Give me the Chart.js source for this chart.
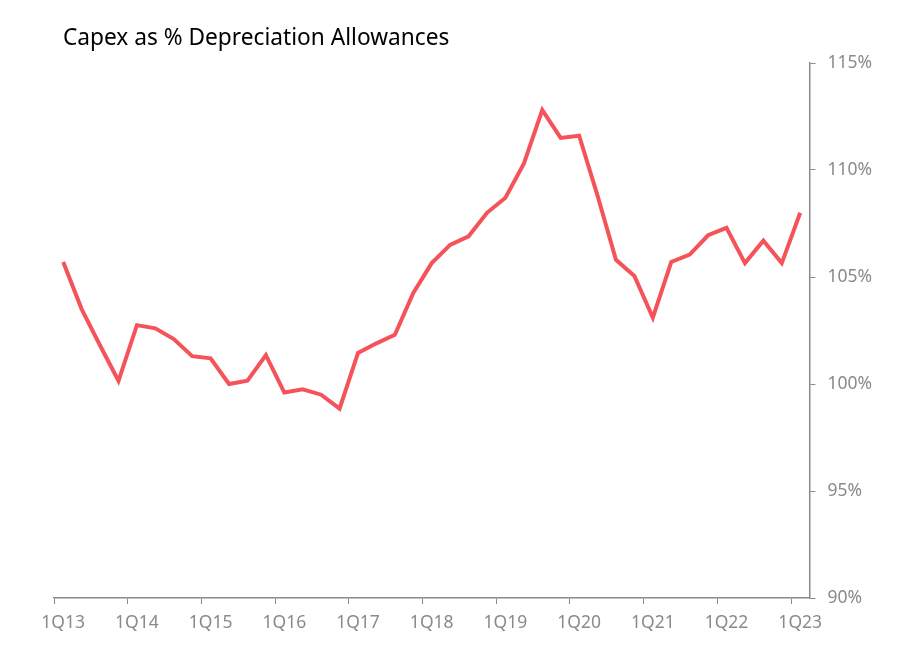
<!DOCTYPE html>
<html>
<head>
<meta charset="utf-8">
<script src="https://cdn.jsdelivr.net/npm/chart.js@4.4.1/dist/chart.umd.min.js"></script>
<style>
  body { margin: 0; background: #fff; }
  #wrap { position: relative; width: 910px; height: 660px; }
  #title { position: absolute; left: 63px; top: 21px; font-family: "Noto Sans", sans-serif; font-size: 22.7px; color: #000; }
</style>
</head>
<body>
<div id="wrap">
  <div id="title">Capex as % Depreciation Allowances</div>
  <canvas id="myChart" width="910" height="660"></canvas>
</div>
<script>
// quarters 1Q13 .. 1Q23
const quarters = [];
for (let y = 13; y <= 23; y++) {
    for (let q = 1; q <= 4; q++) {
        if (y === 23 && q > 1) break;
        quarters.push(q + 'Q' + y);
    }
}
const capexPct = [
    105.7, 103.5, 101.8, 100.15,
    102.75, 102.6, 102.1, 101.3,
    101.2, 100.0, 100.15, 101.35,
    99.6, 99.75, 99.5, 98.85,
    101.45, 101.9, 102.3, 104.25,
    105.65, 106.5, 106.9, 108.0,
    108.7, 110.3, 112.8, 111.5,
    111.6, 108.8, 105.8, 105.05,
    103.1, 105.7, 106.05, 106.95,
    107.3, 105.65, 106.7, 105.65,
    108.0
];
const yTicks = [90, 95, 100, 105, 110, 115];

const axisGray = '#8a8a8a';
const tickFont = { family: '"Noto Sans", sans-serif', size: 17.5 };

new Chart("myChart", {
    type: 'line',
    data: {
        labels: quarters,
        datasets: [{
            data: capexPct,
            borderColor: '#F5535A',
            borderWidth: 4,
            pointRadius: 0,
            tension: 0,
            fill: false
        }]
    },
    options: {
        responsive: false,
        animation: false,
        layout: { padding: { left: 54, right: 26, top: 63, bottom: 17 } },
        plugins: {
            legend: { display: false },
            tooltip: { enabled: false }
        },
        scales: {
            x: {
                offset: true,
                grid: {
                    offset: true,
                    drawOnChartArea: false,
                    tickLength: 6,
                    color: function(ctx) {
                        return (ctx.index % 4 === 0) ? axisGray : 'rgba(0,0,0,0)';
                    }
                },
                border: { color: axisGray, width: 1.5 },
                ticks: {
                    autoSkip: false,
                    maxRotation: 0,
                    color: axisGray,
                    font: tickFont,
                    padding: 9,
                    callback: function(val, i) {
                        return (i % 4 === 0) ? this.getLabelForValue(val) : '';
                    }
                }
            },
            y: {
                position: 'right',
                min: 90,
                max: 115,
                afterBuildTicks: function(axis) {
                    axis.ticks = yTicks.map(v => ({ value: v }));
                },
                grid: {
                    drawOnChartArea: false,
                    tickLength: 6,
                    color: axisGray
                },
                border: { color: axisGray, width: 1.5 },
                ticks: {
                    color: axisGray,
                    font: tickFont,
                    padding: 12,
                    callback: v => v + '%'
                }
            }
        }
    }
});
</script>
</body>
</html>
